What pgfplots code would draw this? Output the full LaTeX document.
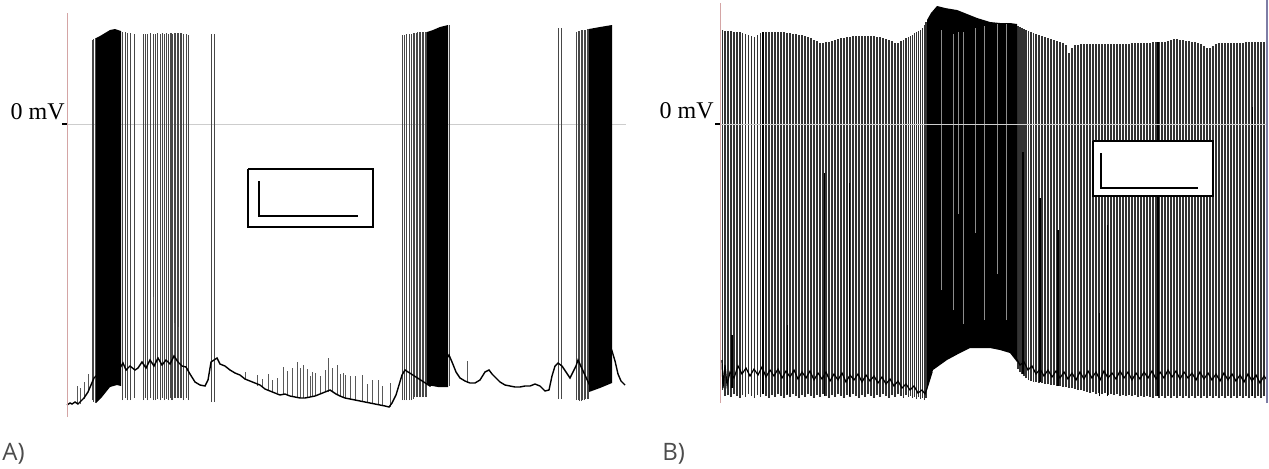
\documentclass[border=0pt]{standalone}
\usepackage{fontspec}
\setmainfont{Liberation Serif}
\newfontfamily\panelfont{Open Sans}
\usepackage{pgfplots}
\pgfplotsset{compat=1.18}
\definecolor{axred}{RGB}{212,165,165}
\definecolor{axblue}{RGB}{125,125,165}
\definecolor{zeroline}{RGB}{205,205,205}

% units: x = pixel column, y = pixels above the 0 mV line
\pgfplotsset{
  trace/.style={hide axis, clip=false, scale only axis, anchor=south west},
  spikes/.style={line width=#1, quiver={u=0, v=\thisrow{t}-\thisrow{b}}},
}

\begin{document}
\begin{tikzpicture}
\useasboundingbox (0,0) rectangle (634.5pt,234pt);

%% ---------------- panel A ----------------
\begin{axis}[trace, at={(33.5pt,25.5pt)}, width=279pt, height=202pt,
  xmin=67, xmax=625, ymin=-293, ymax=111]
\draw[zeroline, line width=0.5pt] (axis cs:67,0) -- (axis cs:626,0);
% bursts
\addplot[fill=black, draw=none] coordinates {
 (96,86) (100,88) (105,91) (110,94) (115,95) (118,94) (121,93)
 (121,-262) (117,-261) (110,-263) (102,-273) (96,-279)};
\addplot[fill=black, draw=none] coordinates {
 (427,92) (433,94) (440,97) (448,99)
 (448,-263) (438,-263) (427,-261)};
\addplot[fill=black, draw=none] coordinates {
 (589,95) (600,97) (612,99)
 (612,-259) (600,-264) (589,-268)};
% full spikes
\addplot[black!72, spikes=0.5pt] table[x=x, y=b] {
x b t
92 -276 84
93.5 -278 85
95 -279 86
122 -276 92
125 -274 92
127.5 -276 91
130 -276 91
134 -274 90
143 -276 90
145 -274 90
147.5 -276 90
150 -274 91
153 -276 90
155 -276 90
157 -275 91
160 -276 90
162 -274 91
164 -276 90
166 -275 91
168 -276 90
170 -274 91
171 -276 91
172.5 -276 90
174 -274 91
175.5 -274 91
177 -274 91
178.5 -274 91
180 -274 91
181.5 -274 91
183 -276 90
186 -274 90
188 -276 89
211 -278 90
214 -278 90
402 -276 89
404 -276 89
406.5 -276 90
409 -276 90
411 -276 90
413 -275 91
414.5 -273 91
416 -273 91
417.5 -273 92
419 -273 92
420.5 -273 92
422 -273 92
423.5 -273 92
425 -273 92
426.5 -273 92
449 -262 99
558.5 -275 96
561.5 -275 96
576.5 -276 92
578 -276 93
579.5 -277 93
581 -277 94
582.5 -276 94
584 -276 94
585.5 -275 94
587 -275 95
588.5 -275 95
};
% small depolarisations
\addplot[black!65, spikes=0.4pt] table[x=x, y=b] {
x b t
77 -280 -262
80 -280 -264
84 -275 -258
88 -268 -250
153 -240 -173
174 -238 -199
178 -240 -203
245 -255 -248
257 -262 -251
262 -263 -255
268 -266 -250
272 -268 -256
277 -269 -254
283 -270 -243
287 -271 -247
292 -272 -244
297 -273 -238
300 -274 -244
303 -274 -241
307 -273 -245
310 -273 -252
312 -272 -248
315 -272 -249
320 -270 -252
325 -268 -246
328 -268 -234
332 -268 -244
337 -271 -241
340 -272 -250
343 -273 -249
345 -274 -251
350 -275 -252
355 -276 -252
362 -278 -251
367 -279 -260
372 -280 -256
378 -281 -256
382 -282 -262
390 -283 -259
467 -259 -237
};
% membrane potential
\addplot[black, line width=0.7pt] coordinates {
 (67,-281) (70,-279) (72,-280) (75,-278) (78,-280) (81,-277) (84,-274) (88,-268)
 (91,-261) (94,-254) (97,-251) (110,-262) (120,-244)
 (123,-239) (126,-246) (130,-242) (135,-246) (138,-244) (142,-238) (146,-244)
 (150,-236) (154,-242) (158,-234) (162,-241) (166,-236) (170,-240) (174,-232)
 (178,-238) (182,-242) (186,-243) (190,-250) (195,-258) (200,-261) (205,-262)
 (208,-256) (211,-238) (214,-236) (217,-234) (220,-240) (225,-242) (230,-246)
 (235,-249) (240,-251) (245,-255) (250,-257) (255,-259) (260,-261) (265,-265)
 (270,-267) (275,-269) (280,-271) (285,-270) (290,-272) (295,-273) (300,-274)
 (305,-274) (310,-273) (315,-272) (320,-270) (325,-268) (330,-266) (336,-270)
 (340,-272) (345,-274) (350,-275) (355,-276) (360,-277) (365,-278) (370,-279)
 (375,-280) (380,-281) (385,-282) (389,-283) (392,-279) (396,-271) (399,-261)
 (402,-251) (405,-246) (430,-262) (449,-231) (452,-238) (456,-248) (460,-254)
 (465,-257) (470,-259) (475,-259) (480,-256) (485,-248) (489,-246) (492,-250)
 (496,-254) (500,-258) (505,-261) (510,-262) (515,-263) (520,-263) (525,-262)
 (530,-262) (535,-260) (540,-262) (545,-267) (549,-266) (552,-252) (555,-242)
 (558,-239) (562,-242) (566,-248) (570,-254) (573,-248) (576,-242) (578,-236)
 (590,-262) (612,-227) (615,-237) (618,-250) (621,-257) (625,-261)};
% scale bar box
\addplot[fill=white, draw=black, line width=0.6pt] coordinates {
 (248,-45) (373,-45) (373,-103) (248,-103) (248,-45)};
\addplot[black, line width=1pt] coordinates {(259,-57) (259,-92) (358,-92)};
\draw[axred, line width=0.5pt] (axis cs:67,-293) -- (axis cs:67,111);
\draw[black, line width=0.6pt] (axis cs:62,0) -- (axis cs:67,0);
\end{axis}

%% ---------------- panel B ----------------
\begin{axis}[trace, at={(360pt,32.5pt)}, width=273.5pt, height=201.5pt,
  xmin=720, xmax=1267, ymin=-279, ymax=124]
\addplot[black!80, spikes=0.75pt] table[x=x, y=b] {
x b t
722.5 -266 94
725 -272 93
728 -271 93
731 -273 93
734 -270 92
737 -272 92
740 -274 92
742.5 -271 91
745.5 -273 90
748.5 -270 89
751.5 -272 88
754.5 -274 87
757.5 -271 89
760.5 -273 91
763 -270 92
766 -272 92
769 -274 92
772 -271 92
775 -273 92
778 -270 92
781 -272 92
784 -274 92
787 -271 91
790 -273 91
793 -270 90
796 -272 90
799 -274 89
802 -271 89
805 -273 88
808 -270 87
811 -272 86
814 -274 84
817 -271 83
820 -273 81
823 -270 81
826 -272 82
829 -274 82
832 -271 83
835 -273 84
838 -270 85
841 -272 86
844 -274 86
847 -271 87
850 -273 87
853 -270 88
856 -272 88
859 -274 88
862 -271 88
865 -273 88
868 -270 88
871 -272 88
874 -274 88
877 -271 87
880 -273 87
883 -270 86
886 -272 85
889 -274 84
892 -271 83
895 -273 81
898 -270 81
901 -272 83
903.5 -274 84
906 -271 86
908.5 -273 87
910.5 -272 88
912.5 -274 89
914.5 -273 91
916.5 -275 92
918.5 -273 93
920.5 -275 94
922.5 -274 96
924.5 -276 99
926 -274 102
1018 -245 98
1020 -248 97
1022 -250 96
1024 -252 95
1026 -254 94
1028.5 -256 93
1031 -257 92
1033.5 -258 91
1036 -258 90
1039 -259 89
1042 -259 88
1045 -260 87
1048 -260 86
1051 -261 85
1054 -261 84
1057 -262 83
1060 -262 82
1063 -263 81
1066 -263 79
1069 -264 71
1072 -264 76
1075 -265 79
1078 -266 79
1081 -266 80
1084 -267 80
1087 -268 80
1090 -269 80
1093 -268 80
1096 -270 80
1099 -269 80
1102 -270 80
1105 -269 80
1108 -271 80
1111 -270 80
1114 -271 80
1117 -270 80
1120 -272 80
1123 -271 80
1126 -272 80
1129 -271 80
1132 -272 81
1135 -271 81
1138 -273 81
1141 -272 81
1144 -273 81
1147 -272 81
1150 -273 81
1153 -274 82
1156 -272 82
1159 -274 82
1162 -272 82
1165 -274 82
1168 -272 83
1171 -274 84
1174 -272 85
1177 -274 85
1180 -272 84
1183 -274 84
1186 -272 83
1189 -274 83
1192 -272 82
1195 -274 82
1198 -272 81
1201 -274 80
1204 -272 78
1207 -274 76
1210 -272 76
1213 -274 78
1216 -272 80
1219 -274 81
1222 -272 81
1225 -274 81
1228 -272 81
1231 -274 81
1234 -272 81
1237 -274 81
1240 -272 81
1243 -274 81
1246 -272 82
1249 -274 82
1252 -272 82
1255 -274 82
1258 -272 82
1261 -274 82
1264 -272 82
};
% partial spikes
\addplot[black, spikes=0.6pt] table[x=x, y=b] {
x b t
732 -264 -211
763 -270 92
787.5 -270 -201
824.5 -272 -49
849.5 -272 -59
1023 -250 -28
1040 -258 -74
1058 -262 -106
1099.5 -272 -189
1107.5 -272 -101
1158 -272 82
1252.5 -272 17
};
% high-frequency burst
\addplot[fill=black, draw=none] coordinates {
 (927,104) (931,111) (937,118) (945,116) (957,114) (967,110) (977,106)
 (990,102) (1000,101) (1010,101) (1017,100)
 (1017,-238) (1010,-229) (1000,-226) (990,-224) (970,-224) (960,-229)
 (947,-236) (940,-241) (933,-246) (929,-258) (927,-266)};
\addplot[black!45, spikes=0.5pt] table[x=x, y=b] {
x b t
941 -166 94
953 -186 90
958 -90 92
963 -200 92
975 -109 96
984 -196 98
997 -150 100
1006 -196 100
};
% membrane potential
\addplot[black, line width=0.6pt] coordinates {
 (722,-236) (723,-264) (725,-241) (727,-261) (730,-248) (734,-254) (738,-242)
 (742,-250) (746,-244) (750,-252) (754,-245) (758,-251) (762,-243) (766,-253)
 (770,-246) (774,-252) (778,-245) (782,-254) (786,-247) (790,-253) (794,-246)
 (798,-255) (802,-248) (806,-254) (810,-247) (814,-256) (818,-249) (822,-255)
 (826,-248) (830,-257) (834,-250) (838,-256) (842,-249) (846,-258) (850,-251)
 (854,-256) (858,-250) (862,-258) (866,-251) (870,-257) (874,-252) (878,-259)
 (882,-253) (886,-260) (890,-255) (894,-262) (898,-257) (902,-264) (906,-260)
 (910,-266) (914,-262) (918,-269) (922,-266) (925,-270) (928,-261) (932,-248)};
\addplot[black, line width=0.6pt] coordinates {
 (1016,-234) (1020,-241) (1024,-238) (1028,-246) (1032,-242) (1036,-250)
 (1040,-245) (1044,-252) (1048,-246) (1052,-253) (1056,-247) (1060,-254)
 (1064,-248) (1068,-255) (1072,-249) (1076,-256) (1080,-248) (1084,-255)
 (1088,-247) (1092,-254) (1096,-248) (1100,-256) (1104,-247) (1108,-254)
 (1112,-249) (1116,-255) (1120,-247) (1124,-254) (1128,-248) (1132,-256)
 (1136,-249) (1140,-255) (1144,-248) (1148,-254) (1152,-247) (1156,-255)
 (1160,-248) (1164,-254) (1168,-246) (1172,-253) (1176,-247) (1180,-255)
 (1184,-248) (1188,-254) (1192,-249) (1196,-256) (1200,-248) (1204,-255)
 (1208,-249) (1212,-256) (1216,-250) (1220,-257) (1224,-249) (1228,-256)
 (1232,-250) (1236,-257) (1240,-251) (1244,-258) (1248,-250) (1252,-257)
 (1256,-251) (1260,-259) (1264,-252) (1267,-256)};
\draw[zeroline, line width=0.5pt] (axis cs:720,0) -- (axis cs:1267,0);
% scale bar box
\addplot[fill=white, draw=black, line width=0.6pt] coordinates {
 (1093,-17) (1213,-17) (1213,-72) (1093,-72) (1093,-17)};
\addplot[black, line width=1pt] coordinates {(1101,-29) (1101,-64) (1198,-64)};
\draw[axred, line width=0.5pt] (axis cs:720,-279) -- (axis cs:720,121);
\draw[axblue, line width=0.6pt] (axis cs:1267,-279) -- (axis cs:1267,124);
\draw[black, line width=0.6pt] (axis cs:715,0) -- (axis cs:720,0);
\end{axis}

\node[anchor=base east, inner sep=0pt, font=\fontsize{12}{14}\selectfont] at (32.5pt,174.5pt) {0 mV};
\node[anchor=base east, inner sep=0pt, font=\fontsize{12}{14}\selectfont] at (357pt,175pt) {0 mV};
\node[anchor=base west, inner sep=0pt, text=black!70, font=\panelfont\fontsize{12}{14}\selectfont] at (1pt,4pt) {A)};
\node[anchor=base west, inner sep=0pt, text=black!70, font=\panelfont\fontsize{12}{14}\selectfont] at (331pt,4pt) {B)};
\end{tikzpicture}
\end{document}
